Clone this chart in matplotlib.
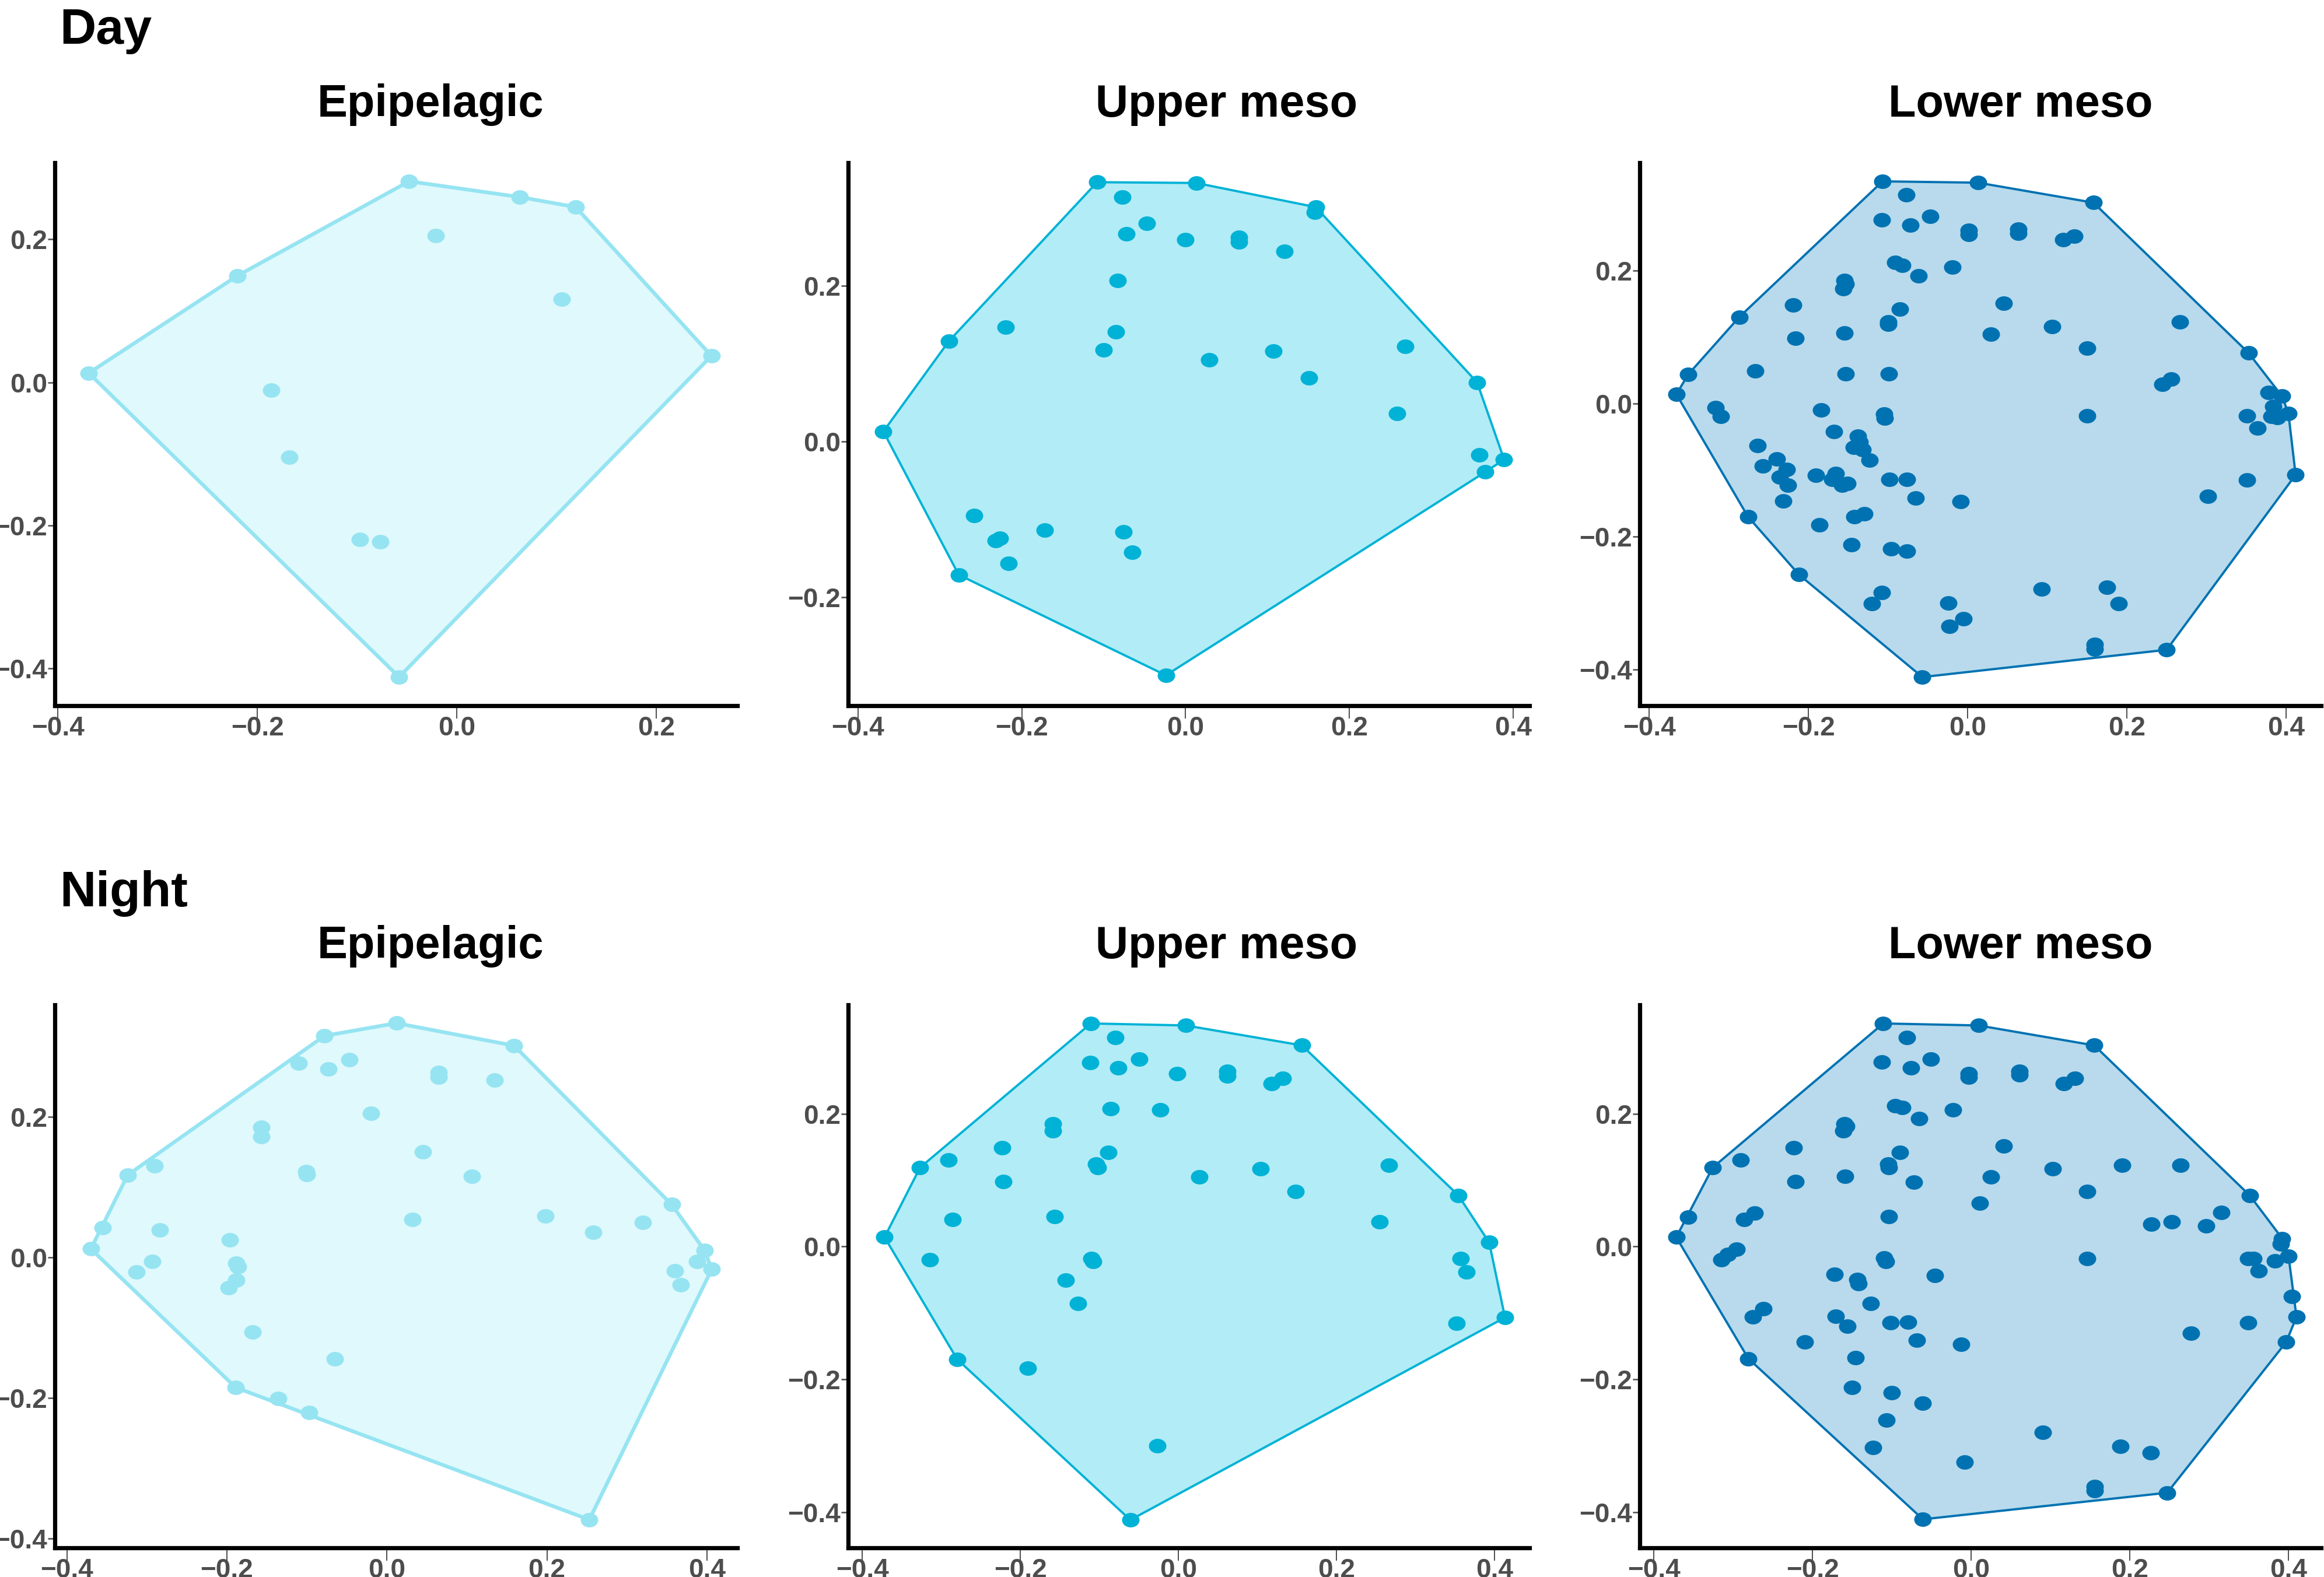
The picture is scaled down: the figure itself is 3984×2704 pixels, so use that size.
import numpy as np
import matplotlib
matplotlib.use("Agg")
import matplotlib.pyplot as plt
from matplotlib.path import Path
from matplotlib.transforms import Affine2D
from matplotlib.ticker import MultipleLocator, FuncFormatter

plt.rcParams['font.family'] = ['Liberation Sans', 'DejaVu Sans']

# ---- data (x, y) ----
day_epi = [(-0.369, 0.013), (-0.220, 0.149), (-0.048, 0.281), (0.063, 0.259), (0.119, 0.245),
           (-0.021, 0.205), (0.105, 0.116), (0.255, 0.037), (-0.186, -0.011), (-0.168, -0.105),
           (-0.097, -0.220), (-0.077, -0.223), (-0.058, -0.412)]

day_upper = [(-0.108, 0.333), (0.013, 0.332), (-0.077, 0.314), (0.159, 0.301), (0.158, 0.294),
             (-0.047, 0.280), (-0.072, 0.267), (0.000, 0.259), (0.065, 0.262), (0.065, 0.256),
             (0.121, 0.244), (-0.083, 0.207), (-0.220, 0.147), (-0.289, 0.129), (-0.085, 0.141),
             (-0.100, 0.118), (0.029, 0.105), (0.107, 0.116), (0.151, 0.082), (0.268, 0.122),
             (0.356, 0.076), (0.258, 0.036), (-0.369, 0.013), (0.359, -0.017), (0.389, -0.023),
             (0.366, -0.039), (-0.258, -0.095), (-0.232, -0.127), (-0.227, -0.124), (-0.172, -0.114),
             (-0.076, -0.116), (-0.065, -0.142), (-0.216, -0.156), (-0.277, -0.171), (-0.024, -0.300)]

day_lower = [(-0.107, 0.334), (0.013, 0.332), (-0.077, 0.314), (0.158, 0.302), (-0.047, 0.281),
             (-0.108, 0.276), (-0.072, 0.268), (0.001, 0.260), (0.001, 0.254), (0.064, 0.262),
             (0.064, 0.256), (0.120, 0.246), (0.134, 0.252), (-0.091, 0.212), (-0.082, 0.208),
             (-0.062, 0.192), (-0.019, 0.205), (-0.155, 0.185), (-0.153, 0.180), (-0.156, 0.173),
             (-0.219, 0.148), (-0.287, 0.130), (-0.085, 0.142), (-0.100, 0.123), (-0.100, 0.119),
             (0.045, 0.151), (-0.155, 0.106), (-0.216, 0.098), (0.029, 0.104), (0.106, 0.116),
             (0.150, 0.083), (0.267, 0.123), (0.353, 0.076), (-0.351, 0.044), (-0.267, 0.049),
             (-0.153, 0.045), (-0.099, 0.045), (0.245, 0.029), (0.256, 0.037), (-0.366, 0.014),
             (0.378, 0.017), (0.395, 0.011), (0.384, -0.004), (0.382, -0.019), (0.389, -0.021),
             (0.403, -0.015), (0.351, -0.018), (0.364, -0.037), (0.150, -0.018), (-0.317, -0.006),
             (-0.310, -0.019), (-0.184, -0.010), (-0.105, -0.016), (-0.104, -0.022), (-0.168, -0.042),
             (-0.264, -0.063), (-0.138, -0.049), (-0.136, -0.058), (-0.143, -0.066), (-0.132, -0.069),
             (-0.123, -0.085), (-0.240, -0.083), (-0.257, -0.094), (-0.227, -0.099), (-0.236, -0.110),
             (-0.226, -0.123), (-0.191, -0.108), (-0.166, -0.105), (-0.170, -0.114), (-0.158, -0.123),
             (-0.151, -0.120), (-0.098, -0.114), (-0.076, -0.114), (-0.065, -0.142), (-0.009, -0.147),
             (-0.232, -0.146), (-0.142, -0.170), (-0.130, -0.166), (-0.276, -0.170), (-0.186, -0.182),
             (-0.146, -0.212), (-0.096, -0.218), (-0.076, -0.222), (-0.212, -0.257), (-0.108, -0.284),
             (-0.120, -0.301), (-0.024, -0.300), (-0.023, -0.335), (-0.005, -0.323), (0.093, -0.279),
             (0.175, -0.276), (0.190, -0.301), (0.160, -0.362), (0.160, -0.369), (0.250, -0.370),
             (-0.057, -0.411), (0.302, -0.139), (0.351, -0.115), (0.412, -0.107)]

night_epi = [(0.012, 0.333), (-0.078, 0.315), (0.159, 0.301), (-0.110, 0.276), (-0.073, 0.268),
             (-0.047, 0.281), (0.065, 0.263), (0.065, 0.256), (0.135, 0.252), (-0.020, 0.205),
             (-0.157, 0.185), (-0.157, 0.172), (0.045, 0.150), (-0.290, 0.130), (-0.324, 0.117),
             (-0.101, 0.122), (-0.100, 0.118), (0.106, 0.115), (0.356, 0.075), (0.032, 0.054),
             (0.198, 0.059), (0.320, 0.050), (0.258, 0.036), (-0.355, 0.042), (-0.284, 0.039),
             (-0.196, 0.025), (-0.370, 0.012), (0.397, 0.010), (0.388, -0.006), (0.406, -0.017),
             (0.360, -0.019), (0.367, -0.039), (-0.293, -0.006), (-0.313, -0.021), (-0.188, -0.008),
             (-0.186, -0.013), (-0.188, -0.032), (-0.198, -0.043), (-0.168, -0.106), (-0.065, -0.144),
             (-0.189, -0.185), (-0.136, -0.201), (-0.097, -0.221), (0.253, -0.373)]

night_upper = [(-0.111, 0.336), (0.009, 0.333), (-0.080, 0.315), (0.156, 0.303), (-0.112, 0.277),
               (-0.076, 0.269), (-0.050, 0.282), (-0.002, 0.260), (0.062, 0.264), (0.062, 0.257),
               (0.118, 0.245), (0.132, 0.253), (-0.086, 0.208), (-0.023, 0.206), (-0.159, 0.185),
               (-0.159, 0.174), (-0.223, 0.149), (-0.291, 0.130), (-0.327, 0.119), (-0.089, 0.142),
               (-0.104, 0.124), (-0.102, 0.119), (-0.222, 0.098), (0.026, 0.105), (0.104, 0.117),
               (0.148, 0.083), (0.266, 0.122), (0.354, 0.077), (-0.286, 0.041), (-0.157, 0.045),
               (0.254, 0.037), (-0.372, 0.014), (0.393, 0.006), (0.357, -0.018), (0.364, -0.038),
               (-0.315, -0.020), (-0.110, -0.018), (-0.108, -0.023), (-0.143, -0.051), (-0.127, -0.086),
               (0.413, -0.107), (0.352, -0.116), (-0.280, -0.170), (-0.191, -0.183), (-0.027, -0.300),
               (-0.061, -0.412)]

night_lower = [(-0.111, 0.336), (0.009, 0.333), (-0.081, 0.315), (0.155, 0.303), (-0.113, 0.278),
               (-0.076, 0.269), (-0.051, 0.282), (-0.003, 0.260), (-0.003, 0.255), (0.061, 0.264),
               (0.061, 0.259), (0.117, 0.245), (0.131, 0.253), (-0.096, 0.212), (-0.087, 0.209),
               (-0.066, 0.193), (-0.023, 0.206), (-0.160, 0.185), (-0.158, 0.181), (-0.161, 0.174),
               (-0.224, 0.149), (-0.291, 0.130), (-0.326, 0.119), (-0.090, 0.142), (-0.105, 0.124),
               (-0.104, 0.119), (0.041, 0.151), (-0.159, 0.106), (-0.222, 0.098), (-0.072, 0.097),
               (0.025, 0.105), (0.103, 0.117), (0.190, 0.122), (0.146, 0.083), (0.264, 0.122),
               (0.351, 0.077), (0.011, 0.065), (-0.357, 0.044), (-0.286, 0.041), (-0.273, 0.050),
               (-0.104, 0.045), (0.227, 0.034), (0.253, 0.037), (0.315, 0.051), (0.296, 0.031),
               (-0.372, 0.014), (0.392, 0.012), (0.390, 0.004), (0.349, -0.018), (0.356, -0.018),
               (0.383, -0.022), (0.400, -0.015), (0.362, -0.037), (0.146, -0.018), (-0.296, -0.004),
               (-0.307, -0.012), (-0.315, -0.020), (-0.110, -0.017), (-0.108, -0.023), (-0.172, -0.042),
               (-0.144, -0.050), (-0.142, -0.056), (-0.046, -0.044), (-0.127, -0.086), (-0.262, -0.094),
               (-0.275, -0.106), (-0.171, -0.105), (-0.156, -0.120), (-0.102, -0.115), (-0.080, -0.114),
               (-0.069, -0.141), (-0.013, -0.147), (-0.210, -0.144), (-0.146, -0.168), (-0.281, -0.169),
               (-0.150, -0.212), (-0.100, -0.220), (-0.061, -0.236), (-0.107, -0.262), (-0.124, -0.303),
               (-0.008, -0.325), (0.090, -0.280), (0.188, -0.301), (0.226, -0.311), (0.156, -0.362),
               (0.156, -0.368), (0.247, -0.371), (-0.061, -0.411), (0.277, -0.131), (0.349, -0.115),
               (0.397, -0.144), (0.404, -0.075), (0.410, -0.106)]

zones = ["Epipelagic", "Upper meso", "Lower meso"]
periods = ["Day", "Night"]
point_colors = ["#96E4F2", "#00B2D6", "#0072B2"]
fill_colors = ["#E0F9FC", "#B2ECF6", "#B8DAEC"]
line_widths = [2.3, 1.4, 1.4]


def convex_hull(pts):
    pts = sorted(set(pts))
    def cross(o, a, b):
        return (a[0] - o[0]) * (b[1] - o[1]) - (a[1] - o[1]) * (b[0] - o[0])
    lower = []
    for p in pts:
        while len(lower) >= 2 and cross(lower[-2], lower[-1], p) <= 0:
            lower.pop()
        lower.append(p)
    upper = []
    for p in reversed(pts):
        while len(upper) >= 2 and cross(upper[-2], upper[-1], p) <= 0:
            upper.pop()
        upper.append(p)
    return lower[:-1] + upper[:-1]


def fmt(v, pos):
    return f"{v:.1f}".replace("-", "\u2212")


# ellipse marker (points are a bit wider than tall in the reference)
ellipse = Path.unit_circle().transformed(Affine2D().scale(1.0, 0.83))

fig = plt.figure(figsize=(19.92, 13.52), dpi=200)
W, H = 3984.0, 2704.0

panel_left = [94, 1454, 2811]
panel_right = [1264, 2622, 3979]
panel_top = [279, 1723]
panel_bottom = [1210, 2654]
title_x = [738, 2103, 3464]
title_base = [200, 1643]
period_base = [75, 1554]

limits = {
    ("Day", 0): ((-0.403, 0.281), (-0.452, 0.307)),
    ("Day", 1): ((-0.412, 0.420), (-0.339, 0.358)),
    ("Day", 2): ((-0.412, 0.444), (-0.454, 0.362)),
    ("Night", 0): ((-0.415, 0.438), (-0.413, 0.359)),
    ("Night", 1): ((-0.418, 0.444), (-0.454, 0.364)),
    ("Night", 2): ((-0.418, 0.441), (-0.454, 0.364)),
}

data = {"Day": [day_epi, day_upper, day_lower],
        "Night": [night_epi, night_upper, night_lower]}

for r, period in enumerate(periods):
    fig.text(102 / W, 1 - period_base[r] / H, period, fontsize=31, fontweight='bold',
             ha='left', va='baseline', color='black')
    for c, zone in enumerate(zones):
        l = panel_left[c] / W
        b = 1 - panel_bottom[r] / H
        w = (panel_right[c] - panel_left[c]) / W
        h = (panel_bottom[r] - panel_top[r]) / H
        ax = fig.add_axes([l, b, w, h])
        pts = data[period][c]
        hull = convex_hull(pts)
        hx = [p[0] for p in hull] + [hull[0][0]]
        hy = [p[1] for p in hull] + [hull[0][1]]
        ax.fill(hx, hy, color=fill_colors[c], zorder=1, lw=0)
        ax.plot(hx, hy, color=point_colors[c], lw=line_widths[c], zorder=2)
        xs = [p[0] for p in pts]
        ys = [p[1] for p in pts]
        ax.plot(xs, ys, ls='none', marker=ellipse, ms=10.8, color=point_colors[c],
                mew=0, zorder=3)

        (x0, x1), (y0, y1) = limits[(period, c)]
        ax.set_xlim(x0, x1)
        ax.set_ylim(y0, y1)
        ax.xaxis.set_major_locator(MultipleLocator(0.2))
        ax.yaxis.set_major_locator(MultipleLocator(0.2))
        ax.xaxis.set_major_formatter(FuncFormatter(fmt))
        ax.yaxis.set_major_formatter(FuncFormatter(fmt))
        for s in ['top', 'right']:
            ax.spines[s].set_visible(False)
        for s in ['left', 'bottom']:
            ax.spines[s].set_linewidth(2.6)
            ax.spines[s].set_color('black')
        ax.tick_params(axis='x', direction='out', length=8, width=0.7, color='#4D4D4D',
                       pad=-2, labelsize=16.5, labelcolor='#4D4D4D')
        ax.tick_params(axis='y', direction='out', length=4.3, width=0.9, color='#4D4D4D',
                       pad=0.5, labelsize=16.5, labelcolor='#4D4D4D')
        for lab in ax.get_xticklabels() + ax.get_yticklabels():
            lab.set_fontweight('bold')
        ax.set_facecolor('white')

        fig.text(title_x[c] / W, 1 - title_base[r] / H, zone, fontsize=28, fontweight='bold',
                 ha='center', va='baseline', color='black')

fig.savefig("out.png", dpi=200, facecolor='white')
